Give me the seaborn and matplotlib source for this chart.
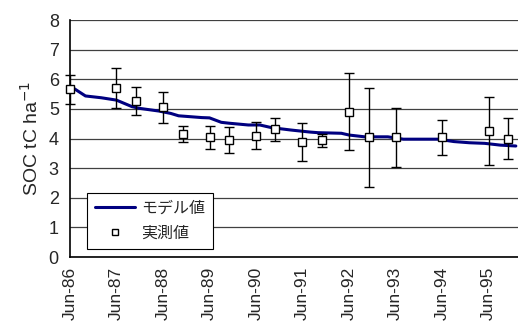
import matplotlib
matplotlib.use("Agg")
import matplotlib.pyplot as plt
import matplotlib.dates as mdates
import pandas as pd
import seaborn as sns

# model (monthly simulation)
model_dates = ['1986-06', '1986-10', '1987-02', '1987-06', '1987-10', '1987-12',
               '1988-05', '1988-08', '1988-10', '1989-04', '1989-06', '1989-09',
               '1989-11', '1990-04', '1990-07', '1990-10', '1991-03', '1991-08',
               '1991-10', '1992-04', '1992-06', '1992-10', '1993-04', '1993-08',
               '1993-12', '1994-05', '1994-09', '1995-01', '1995-05', '1995-09',
               '1996-01']
model_soc = [5.78, 5.44, 5.38, 5.30, 5.08, 5.02, 4.93, 4.85, 4.77, 4.71, 4.70, 4.55,
             4.52, 4.46, 4.46, 4.37, 4.29, 4.22, 4.20, 4.18, 4.12, 4.06, 4.06, 3.98,
             3.98, 3.98, 3.90, 3.86, 3.84, 3.78, 3.75]

# measured values with error bars
meas_dates = ['1986-06', '1987-06', '1987-11', '1988-06', '1988-11', '1989-06',
              '1989-11', '1990-06', '1990-11', '1991-06', '1991-11', '1992-06',
              '1992-11', '1993-06', '1994-06', '1995-06', '1995-11']
meas_soc = [5.66, 5.72, 5.27, 5.06, 4.14, 4.04, 3.95, 4.10, 4.31, 3.90, 3.95, 4.91,
            4.04, 4.04, 4.04, 4.25, 4.00]
meas_err = [0.50, 0.67, 0.47, 0.52, 0.27, 0.40, 0.45, 0.45, 0.40, 0.64, 0.22, 1.30,
            1.67, 1.00, 0.58, 1.15, 0.70]

tick_years = list(range(1986, 1996))

model = pd.DataFrame({'date': pd.to_datetime(model_dates), 'soc': model_soc})
meas = pd.DataFrame({'date': pd.to_datetime(meas_dates), 'soc': meas_soc, 'err': meas_err})

sns.set_style("white")
plt.rcParams['font.family'] = ['Liberation Sans', 'Noto Sans CJK JP']

fig = plt.figure(figsize=(5.18, 3.36), dpi=100)
ax = fig.add_axes([0.135, 0.235, 0.865, 0.705])

sns.lineplot(data=model, x='date', y='soc', color='#000080', lw=2.2, ax=ax,
             label='モデル値')
ax.errorbar(meas['date'], meas['soc'], yerr=meas['err'], fmt='none', ecolor='black',
            elinewidth=1, capsize=3.6, capthick=1, zorder=3, clip_on=False)
ax.plot(meas['date'], meas['soc'], ls='none', marker='s', ms=5.5, mfc='white',
        mec='black', mew=1, zorder=4, clip_on=False, label='実測値')

ax.set_ylim(0, 8)
ax.set_yticks(range(0, 9))
ax.set_xlim(pd.Timestamp('1986-06-01'), pd.Timestamp('1996-01-18'))
ax.set_xticks([pd.Timestamp(f'{y}-06-01') for y in tick_years])
ax.xaxis.set_major_formatter(mdates.DateFormatter('%b-%y'))
plt.xticks(rotation=90, fontsize=12.5)
plt.yticks(fontsize=13)
ax.tick_params(axis='x', direction='in', length=5, width=1, color='black', pad=7)
ax.tick_params(axis='y', direction='out', length=3, width=1, color='black', pad=5)

ax.yaxis.grid(True, color='#404040', lw=0.9)
ax.set_axisbelow(True)
for s in ['top', 'right']:
    ax.spines[s].set_visible(False)
for s in ['left', 'bottom']:
    ax.spines[s].set_color('black')
    ax.spines[s].set_linewidth(1.2)

ax.set_xlabel('')
ax.set_ylabel('SOC tC ha$^{-1}$', fontsize=14, labelpad=5)

leg = ax.legend(loc='lower left', bbox_to_anchor=(0.038, 0.034), borderaxespad=0,
                fontsize=11.5, frameon=True, fancybox=False, framealpha=1,
                edgecolor='black', handlelength=2.5, handletextpad=0.4,
                borderpad=0.5, labelspacing=0.65, markerscale=0.8)
leg.get_frame().set_linewidth(0.8)

fig.savefig('out.png', dpi=100)
